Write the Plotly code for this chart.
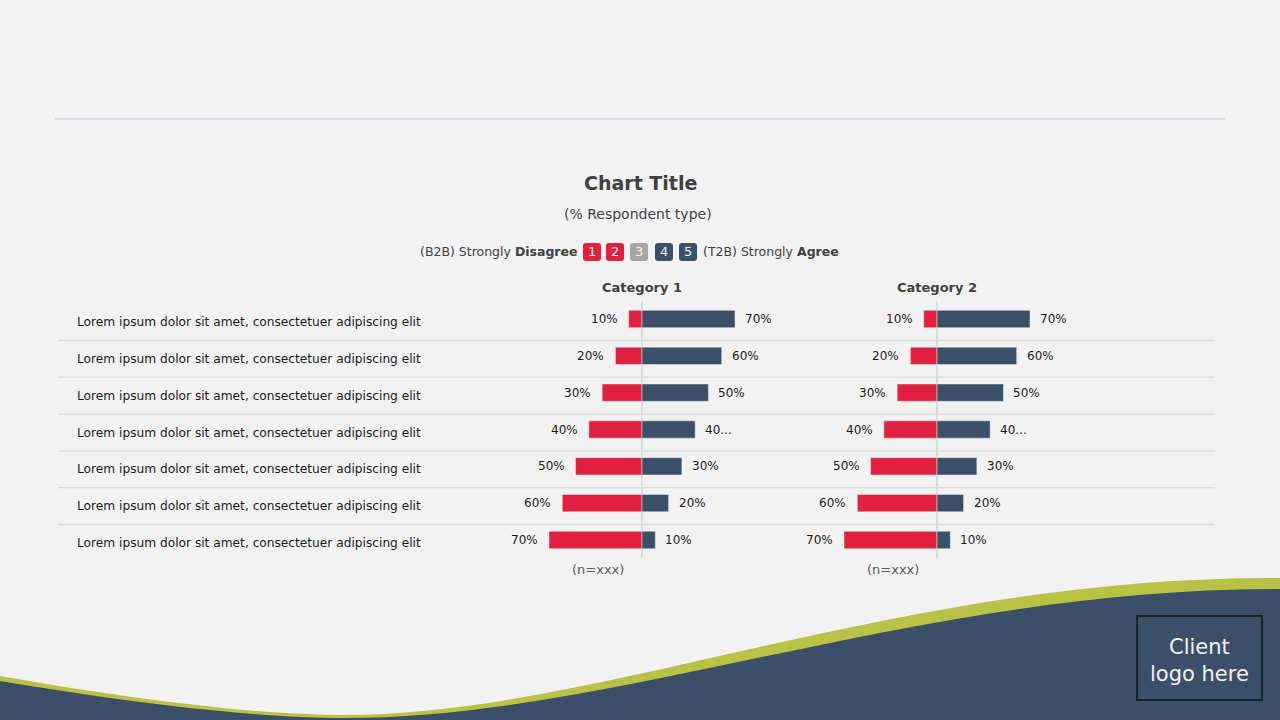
import plotly.graph_objects as go

W, H = 1280, 720

# data
rows = ["Lorem ipsum dolor sit amet, consectetuer adipiscing elit"] * 7
categories = ["Category 1", "Category 2"]
disagree = [10, 20, 30, 40, 50, 60, 70]
agree = [70, 60, 50, 40, 30, 20, 10]
agree_labels = ["70%", "60%", "50%", "40...", "30%", "20%", "10%"]
disagree_labels = ["10%", "20%", "30%", "40%", "50%", "60%", "70%"]
sample_note = ["(n=xxx)", "(n=xxx)"]
scale_keys = ["1", "2", "3", "4", "5"]

RED = "#e0203e"
BLUE = "#3b5068"
GREY = "#a6a6a6"
GREEN = "#b9c244"
BG = "#f2f2f2"
TXT = "#404040"
FONT = "DejaVu Sans"


def px(x):
    return x / W


def py(y):
    return 1 - y / H


def wave_path(start, segments):
    # start point + list of cubic segments (c1, c2, end), pixel coords -> paper path
    d = "M %.5f %.5f" % (px(start[0]), py(start[1]))
    for c1, c2, end in segments:
        d += " C %.5f %.5f, %.5f %.5f, %.5f %.5f" % (px(c1[0]), py(c1[1]), px(c2[0]), py(c2[1]),
                                                      px(end[0]), py(end[1]))
    return d + " L 1 0 L 0 0 Z"


def rounded_rect(x0, y0, x1, y1, r):
    rx, ry = r / W, r / H
    a, b, c, e = px(x0), py(y1), px(x1), py(y0)
    return (f"M {a+rx} {b} L {c-rx} {b} Q {c} {b} {c} {b+ry} L {c} {e-ry} "
            f"Q {c} {e} {c-rx} {e} L {a+rx} {e} Q {a} {e} {a} {e-ry} "
            f"L {a} {b+ry} Q {a} {b} {a+rx} {b} Z")


def text_at(x, y, text, size, color=TXT, xanchor="center"):
    return dict(xref="paper", yref="paper", x=px(x), y=py(y), text=text,
                xanchor=xanchor, yanchor="middle", showarrow=False,
                font=dict(size=size, color=color))


fig = go.Figure()
axes = ["x", "x2"]
idx = list(range(len(rows)))
for ax in axes:
    fig.add_trace(go.Bar(y=idx, x=[-v for v in disagree], orientation="h",
                         marker=dict(color=RED), width=0.47, xaxis=ax,
                         hoverinfo="skip", showlegend=False))
    fig.add_trace(go.Bar(y=idx, x=agree, orientation="h",
                         marker=dict(color=BLUE), width=0.47, xaxis=ax,
                         hoverinfo="skip", showlegend=False))

centers = [642, 937]
half = 80 * 93 / 70
xax = dict(range=[-80, 80], showticklabels=False, showgrid=False, zeroline=True,
           zerolinecolor="#dcdcdc", zerolinewidth=1.5, layer="above traces",
           fixedrange=True, anchor="y")
fig.update_layout(
    width=W, height=H, margin=dict(l=0, r=0, t=0, b=0),
    paper_bgcolor=BG, plot_bgcolor="rgba(0,0,0,0)", barmode="overlay",
    xaxis=dict(xax, domain=[px(centers[0] - half), px(centers[0] + half)]),
    xaxis2=dict(xax, domain=[px(centers[1] - half), px(centers[1] + half)]),
    yaxis=dict(range=[6.5, -0.5], domain=[py(558.4), py(300.6)], showticklabels=False,
               showgrid=False, zeroline=False, fixedrange=True, anchor="x"),
    font=dict(family=FONT, color=TXT),
)

shapes = []
ann = []

# wave footer
green_wave = wave_path((0, 676), [((120, 697), (250, 715), (345, 715)),
                                  ((600, 715), (900, 576), (1280, 578))])
blue_wave = wave_path((0, 681), [((120, 701), (250, 718), (345, 718)),
                                 ((620, 718), (920, 588), (1280, 589))])
shapes.append(dict(type="path", xref="paper", yref="paper", path=green_wave,
                   fillcolor=GREEN, line=dict(width=0), layer="below"))
shapes.append(dict(type="path", xref="paper", yref="paper", path=blue_wave,
                   fillcolor=BLUE, line=dict(width=0), layer="below"))

# logo box
shapes.append(dict(type="rect", xref="paper", yref="paper", x0=px(1137), x1=px(1262),
                   y0=py(700), y1=py(616), fillcolor=BLUE, line=dict(color="#17222d", width=2)))
ann.append(text_at(1199, 660, "Client<br>logo here", 21, "#f2f2f2"))

# top rule
shapes.append(dict(type="line", xref="paper", yref="paper", x0=px(55), x1=px(1225),
                   y0=py(119), y1=py(119), line=dict(color="#d5dde6", width=2)))

# row separators
for i in idx[:-1]:
    shapes.append(dict(type="line", xref="paper", yref="y", x0=px(58), x1=px(1215),
                       y0=i + 0.58, y1=i + 0.58, line=dict(color="#d9d9d9", width=1.3),
                       layer="below"))

# title block
ann.append(text_at(640, 183, "<b>Chart Title</b>", 19))
ann.append(text_at(638, 214, "(% Respondent type)", 14))

# scale legend
key_x = [592, 615, 639, 664, 688]
key_col = [RED, RED, GREY, BLUE, BLUE]
for k, cx, col in zip(scale_keys, key_x, key_col):
    shapes.append(dict(type="path", xref="paper", yref="paper",
                       path=rounded_rect(cx - 9, 243, cx + 9, 261, 3),
                       fillcolor=col, line=dict(width=0)))
    ann.append(text_at(cx, 252, k, 13, "#f2f2f2"))
ann.append(text_at(580, 252, "(B2B) Strongly <b>Disagree</b>", 12.5, xanchor="right"))
ann.append(text_at(701, 252, "(T2B) Strongly <b>Agree</b>", 12.5, xanchor="left"))

# row labels
for i, r in zip(idx, rows):
    ann.append(dict(xref="paper", yref="y", x=px(75), y=i, yshift=-3, xanchor="left",
                    yanchor="middle", text=r, showarrow=False,
                    font=dict(size=12.2, color="#1a1a1a")))

# category headers, value labels, notes
for ax, cat, note, cx in zip(axes, categories, sample_note, centers):
    ann.append(text_at(cx, 287, "<b>%s</b>" % cat, 13))
    ann.append(text_at(cx - 44, 569, note, 13, "#595959"))
    for i in idx:
        ann.append(dict(xref=ax, yref="y", x=-disagree[i], y=i, xanchor="right", xshift=-9,
                        yanchor="middle", text=disagree_labels[i], showarrow=False,
                        font=dict(size=12, color="#1a1a1a")))
        ann.append(dict(xref=ax, yref="y", x=agree[i], y=i, xanchor="left", xshift=8,
                        yanchor="middle", text=agree_labels[i], showarrow=False,
                        font=dict(size=12, color="#1a1a1a")))

fig.update_layout(shapes=shapes, annotations=ann)
fig.write_html("out.html", config={"displayModeBar": False},
               post_script="document.body.style.margin='0';document.body.style.overflow='hidden';")
